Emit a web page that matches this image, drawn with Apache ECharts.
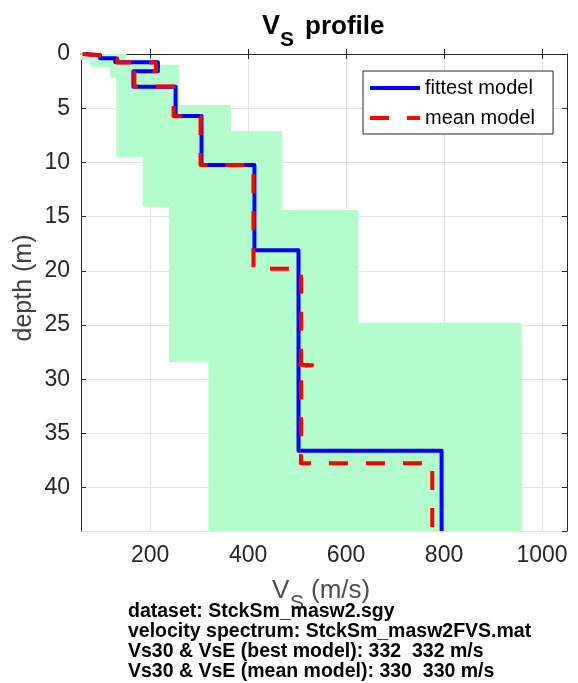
<!DOCTYPE html>
<html>
<head>
<meta charset="utf-8">
<script src="https://cdn.jsdelivr.net/npm/echarts@6/dist/echarts.min.js"></script>
<style>html,body{margin:0;padding:0;background:#fff;}#c{width:578px;height:683px;}</style>
</head>
<body>
<div id="c"></div>
<script>
// ---- data ----
// fittest model: layer velocities (m/s) and layer interface depths (m)
const fitVs    = [67, 98, 129, 216, 166, 252, 305, 413, 503, 795];
const fitDepth = [0, 0.12, 0.4, 0.75, 1.6, 3.02, 5.73, 10.25, 18.1, 36.6, 44];
// mean model
const meanVs    = [62, 96, 133, 212, 168, 248, 303, 411, 508, 486, 531, 508, 776];
const meanDepth = [0, 0.12, 0.42, 0.78, 1.6, 3.0, 5.75, 10.25, 19.8, 28.62, 28.7, 28.78, 37.75, 44];
// uncertainty band: min (left) and max (right) velocities per band layer
const bandMinV = [59, 78, 118, 131, 185, 239, 319];
const bandMinD = [0, 0.55, 1.2, 2.2, 9.5, 14.1, 28.4, 44];
const bandMaxV = [152, 214, 259, 365, 470, 625, 959];
const bandMaxD = [0, 0.55, 1.0, 4.7, 7.1, 14.4, 24.8, 44];
// axis ranges
const xRange = [59, 1051];
const yRange = [0, 44];
const yTickStep = 5;
const infoLines = [
  'dataset: StckSm_masw2.sgy',
  'velocity spectrum: StckSm_masw2FVS.mat',
  'Vs30 & VsE (best model): 332  332 m/s',
  'Vs30 & VsE (mean model): 330  330 m/s'
];

function stepPath(vs, ds) {
  const pts = [];
  for (let i = 0; i < vs.length; i++) {
    pts.push([vs[i], ds[i]]);
    pts.push([vs[i], ds[i + 1]]);
  }
  return pts;
}

const FONT = '"Liberation Sans", Arial, sans-serif';
const AX = '#262626';
const chart = echarts.init(document.getElementById('c'), null, {renderer: 'canvas'});

const axisCommon = {
  axisLine: {show: true, lineStyle: {color: AX, width: 1}},
  axisTick: {show: true, inside: true, length: 5, lineStyle: {color: AX}},
};

chart.setOption({
  animation: false,
  backgroundColor: '#fff',
  grid: {left: 81, top: 54, width: 486, height: 477, containLabel: false},
  legend: {
    orient: 'vertical', left: 363, top: 71,
    padding: [7, 18, 6, 5], itemGap: 10, itemWidth: 50, itemHeight: 20,
    backgroundColor: '#fff', borderColor: AX, borderWidth: 1, borderRadius: 0,
    itemStyle: {color: 'rgba(0,0,0,0)', borderWidth: 0, opacity: 0},
    lineStyle: {width: 4},
    textStyle: {fontSize: 20, fontFamily: FONT, color: '#000'},
    data: ['fittest model', 'mean model']
  },
  xAxis: [
    Object.assign({type: 'value', position: 'bottom', min: xRange[0], max: xRange[1], splitNumber: 5,
      axisLabel: {color: AX, fontSize: 23, fontFamily: FONT, margin: 13, showMinLabel: false, showMaxLabel: false,
        formatter: function (v) { return String(v); }},
      splitLine: {show: true, lineStyle: {color: '#e3e3e3', width: 1}}}, axisCommon),
    Object.assign({type: 'value', position: 'top', min: xRange[0], max: xRange[1], splitNumber: 5,
      axisLabel: {show: false}, splitLine: {show: false}}, axisCommon)
  ],
  yAxis: [
    Object.assign({type: 'value', position: 'left', inverse: true, min: yRange[0], max: yRange[1], interval: yTickStep,
      axisLabel: {color: AX, fontSize: 23, fontFamily: FONT, margin: 11, showMaxLabel: false},
      splitLine: {show: true, lineStyle: {color: '#e3e3e3', width: 1}}}, axisCommon),
    Object.assign({type: 'value', position: 'right', inverse: true, min: yRange[0], max: yRange[1], interval: yTickStep,
      axisLabel: {show: false}, splitLine: {show: false}}, axisCommon)
  ],
  series: [
    {
      type: 'custom', name: 'band', silent: true, clip: true,
      xAxisIndex: 0, yAxisIndex: 0,
      data: [[bandMinV[0], bandMinD[0]]],
      renderItem: function (params, api) {
        const left = stepPath(bandMinV, bandMinD);
        const right = stepPath(bandMaxV, bandMaxD).reverse();
        const pts = left.concat(right).map(p => api.coord(p));
        return {type: 'polygon', shape: {points: pts}, style: {fill: '#b3fccc', stroke: null}};
      },
      z: 1
    },
    {
      type: 'line', name: 'fittest model', xAxisIndex: 0, yAxisIndex: 0,
      data: stepPath(fitVs, fitDepth), symbol: 'none', showSymbol: false,
      lineStyle: {color: '#0000ff', width: 4, join: 'round'}, itemStyle: {color: '#0000ff'}, z: 3
    },
    {
      type: 'line', name: 'mean model', xAxisIndex: 0, yAxisIndex: 0,
      data: stepPath(meanVs, meanDepth), symbol: 'none', showSymbol: false,
      lineStyle: {color: '#ff0000', width: 4, type: [19, 18], join: 'round'}, itemStyle: {color: '#ff0000'}, z: 4
    }
  ],
  graphic: [
    // title
    {type: 'text', x: 262, y: 27, style: {text: 'V', font: 'bold 27px ' + FONT, fill: '#000', align: 'left', verticalAlign: 'middle'}},
    {type: 'text', x: 280, y: 40, style: {text: 'S', font: 'bold 21px ' + FONT, fill: '#000', align: 'left', verticalAlign: 'middle'}},
    {type: 'text', x: 305, y: 27, style: {text: 'profile', font: 'bold 26px ' + FONT, fill: '#000', align: 'left', verticalAlign: 'middle'}},
    // x axis name
    {type: 'text', x: 272, y: 591, style: {text: 'V', font: '26px ' + FONT, fill: '#4d4d4d', align: 'left', verticalAlign: 'middle'}},
    {type: 'text', x: 290, y: 603, style: {text: 'S', font: '21px ' + FONT, fill: '#4d4d4d', align: 'left', verticalAlign: 'middle'}},
    {type: 'text', x: 311, y: 591, style: {text: '(m/s)', font: '26px ' + FONT, fill: '#4d4d4d', align: 'left', verticalAlign: 'middle'}},
    // y axis name
    {type: 'text', x: 24, y: 288, rotation: Math.PI / 2, style: {text: 'depth (m)', font: '25px ' + FONT, fill: '#404040', align: 'center', verticalAlign: 'middle'}},
    // info lines
    {type: 'text', x: 128, y: 612, style: {text: infoLines[0], font: 'bold 19.5px ' + FONT, fill: '#000', align: 'left', verticalAlign: 'middle'}},
    {type: 'text', x: 128, y: 632, style: {text: infoLines[1], font: 'bold 19.5px ' + FONT, fill: '#000', align: 'left', verticalAlign: 'middle'}},
    {type: 'text', x: 128, y: 652, style: {text: infoLines[2], font: 'bold 19.5px ' + FONT, fill: '#000', align: 'left', verticalAlign: 'middle'}},
    {type: 'text', x: 128, y: 672, style: {text: infoLines[3], font: 'bold 19.5px ' + FONT, fill: '#000', align: 'left', verticalAlign: 'middle'}}
  ]
});
</script>
</body>
</html>
